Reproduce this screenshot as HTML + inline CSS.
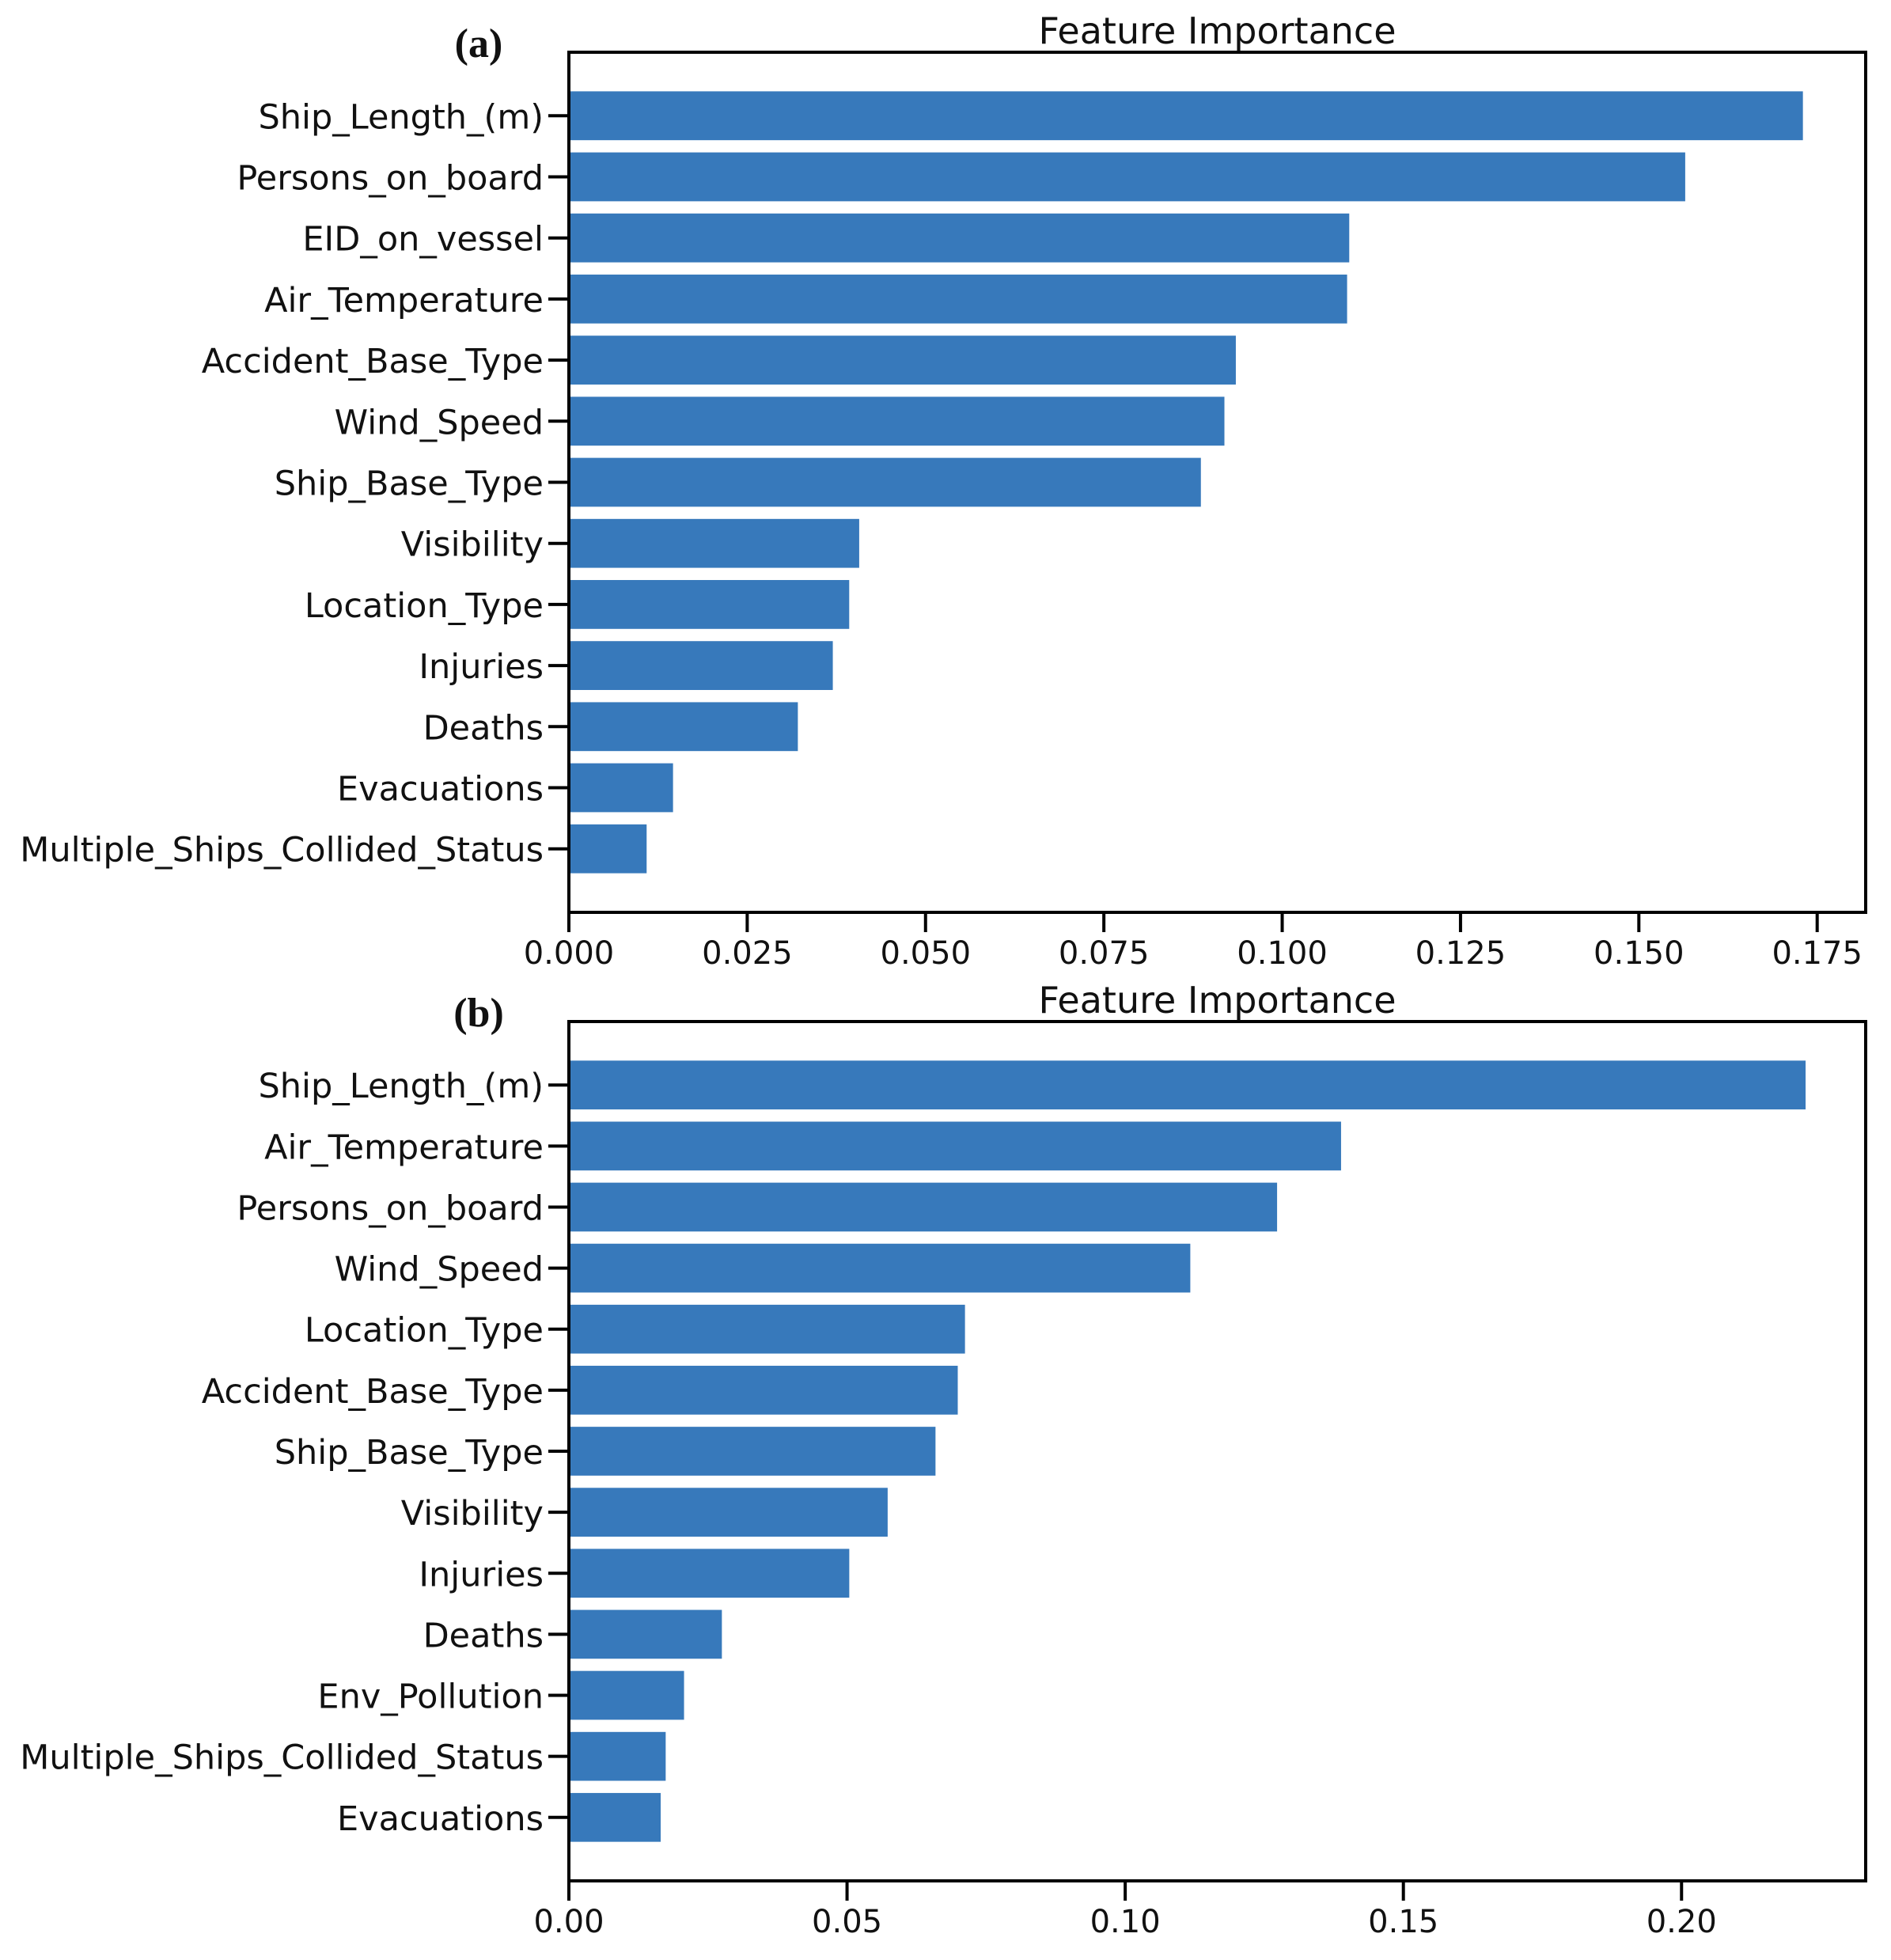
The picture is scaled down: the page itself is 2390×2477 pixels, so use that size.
<!DOCTYPE html>
<html><head><meta charset="utf-8"><style>
html,body{margin:0;padding:0;background:#fff;}
svg{display:block;font-family:"DejaVu Sans","Liberation Sans",sans-serif;}
</style></head><body>
<svg id="chart" width="2390" height="2477" viewBox="0 0 2390 2477" xmlns="http://www.w3.org/2000/svg">
<rect width="2390" height="2477" fill="#fff"/>
</svg>
<script>
const catsA = ["Ship_Length_(m)","Persons_on_board","EID_on_vessel","Air_Temperature","Accident_Base_Type","Wind_Speed","Ship_Base_Type","Visibility","Location_Type","Injuries","Deaths","Evacuations","Multiple_Ships_Collided_Status"];
const valsA = [0.1730,0.1565,0.1094,0.1091,0.0935,0.0919,0.0886,0.0407,0.0393,0.0370,0.0321,0.0146,0.0109];
const ticksA = ["0.000","0.025","0.050","0.075","0.100","0.125","0.150","0.175"];
const tickValsA = [0,0.025,0.05,0.075,0.1,0.125,0.15,0.175];
const catsB = ["Ship_Length_(m)","Air_Temperature","Persons_on_board","Wind_Speed","Location_Type","Accident_Base_Type","Ship_Base_Type","Visibility","Injuries","Deaths","Env_Pollution","Multiple_Ships_Collided_Status","Evacuations"];
const valsB = [0.2223,0.1388,0.1273,0.1117,0.0712,0.0699,0.0659,0.0573,0.0504,0.0275,0.0207,0.0174,0.0165];
const ticksB = ["0.00","0.05","0.10","0.15","0.20"];
const tickValsB = [0,0.05,0.10,0.15,0.20];

const NS = "http://www.w3.org/2000/svg";
const svg = document.getElementById('chart');
function mk(tag, attrs, parent){
  const e = document.createElementNS(NS, tag);
  for (const k in attrs) e.setAttribute(k, attrs[k]);
  parent.appendChild(e);
  return e;
}
function panel(id, top, bottom, xmaxVal, cats, vals, ticks, tickVals, letter){
  const L = 719, R = 2358;
  const g = mk('g', {}, svg);
  
  
  const x = v => L + v / xmaxVal * (R - L);
  const n = cats.length;
  const lo = -0.4 - 0.05 * (n - 0.2), hi = n - 0.6 + 0.05 * (n - 0.2);
  const y = i => top + (i - lo) / (hi - lo) * (bottom - top);
  const bh = 0.8 / (hi - lo) * (bottom - top);
  cats.forEach((c, i) => {
    const r = mk('rect', {x: L, y: y(i) - bh / 2, width: x(vals[i]) - L, height: bh, fill: '#3779bb'}, g);
    
    
    const tk = mk('line', {x1: L - 26, x2: L, y1: y(i), y2: y(i), stroke: '#000', 'stroke-width': 4}, g);
    
    
    const t = mk('text', {x: L - 32, y: y(i) + 16, 'text-anchor': 'end', 'font-size': 43, fill: '#111'}, g);
    t.textContent = c;
    
    
  });
  tickVals.forEach((v, i) => {
    const tk = mk('line', {x1: x(v), x2: x(v), y1: bottom, y2: bottom + 25, stroke: '#000', 'stroke-width': 4}, g);
    
    
    const t = mk('text', {x: x(v), y: bottom + 65, 'text-anchor': 'middle', 'font-size': 40, fill: '#111'}, g);
    t.textContent = ticks[i];
    
    
  });
  const fr = mk('rect', {x: L, y: top, width: R - L, height: bottom - top, fill: 'none', stroke: '#000', 'stroke-width': 4}, g);
  
  
  const ti = mk('text', {x: (L + R) / 2, y: top - 11, 'text-anchor': 'middle', 'font-size': 46, fill: '#111'}, g);
  ti.textContent = 'Feature Importance';
  
  
  const lt = mk('text', {x: 605, y: top + 6, 'text-anchor': 'middle', 'font-size': 52, 'font-weight': 'bold', 'font-family': '"Liberation Serif", serif', fill: '#111'}, g);
  lt.textContent = letter;
  
  
}
panel('a', 66, 1153, 0.1818, catsA, valsA, ticksA, tickValsA, '(a)');
panel('b', 1291, 2377, 0.2331, catsB, valsB, ticksB, tickValsB, '(b)');
</script>
</body></html>
